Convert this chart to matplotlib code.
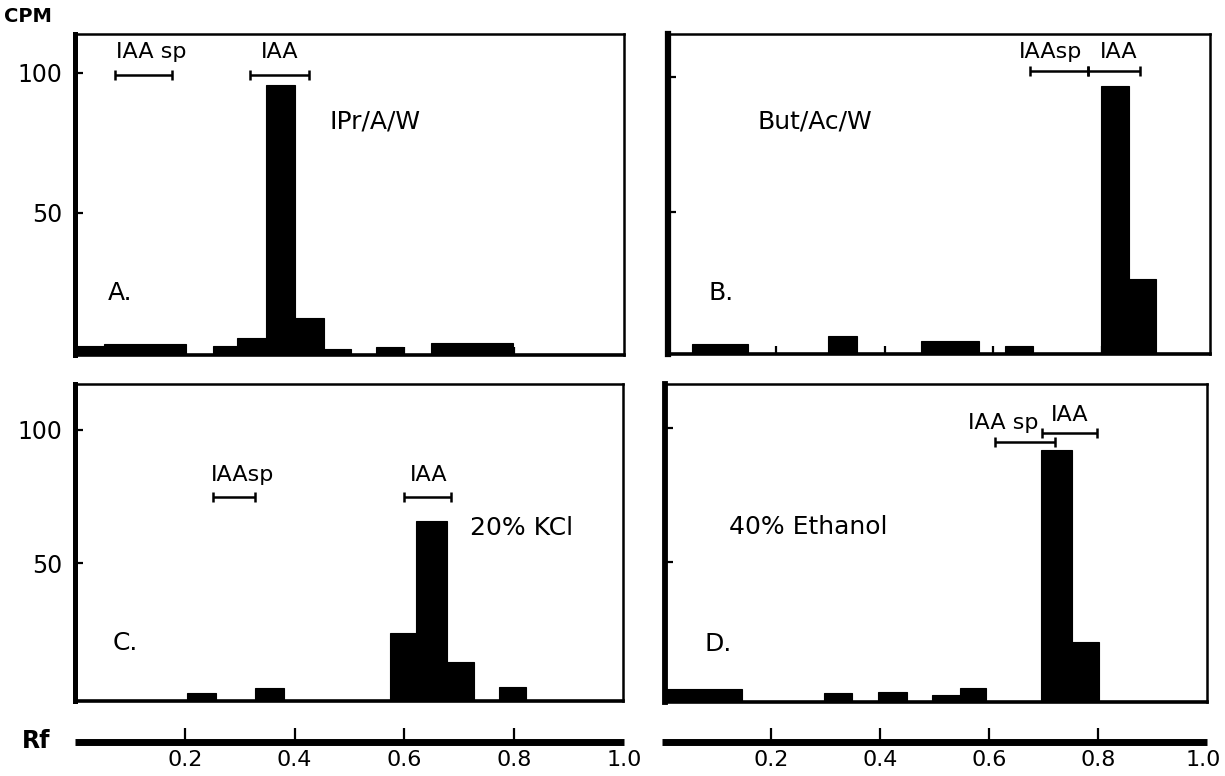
import matplotlib
matplotlib.use("Agg")
import matplotlib.pyplot as plt
from matplotlib.transforms import ScaledTranslation

plt.rcParams['font.family'] = ['DejaVu Sans']

W, H = 1225, 776

# ---------------- data (Rf edges, CPM) ----------------
a_lo = [0.000, 0.052, 0.251, 0.295, 0.348, 0.401, 0.453, 0.549, 0.648]
a_hi = [0.052, 0.202, 0.295, 0.348, 0.401, 0.453, 0.502, 0.598, 0.798]
a_cpm = [2.4, 3.1, 2.4, 5.1, 95.6, 12.5, 1.2, 1.9, 3.6]

b_lo = [0.045, 0.295, 0.466, 0.621, 0.799, 0.850]
b_hi = [0.147, 0.348, 0.573, 0.673, 0.850, 0.900]
b_cpm = [1.4, 4.4, 2.6, 1.0, 96.5, 25.5]

c_lo = [0.204, 0.328, 0.575, 0.622, 0.679, 0.774]
c_hi = [0.258, 0.381, 0.622, 0.679, 0.729, 0.823]
c_cpm = [1.3, 3.1, 24.0, 66.0, 13.1, 3.5]

d_lo = [0.000, 0.294, 0.393, 0.492, 0.545, 0.693, 0.751]
d_hi = [0.142, 0.345, 0.446, 0.545, 0.593, 0.751, 0.801]
d_cpm = [2.5, 0.9, 1.3, 0.0, 2.8, 92.0, 20.0]

# marker brackets: (label, Rf start, Rf end)
a_marks = [("IAA sp", 0.073, 0.176), ("IAA", 0.318, 0.426)]
b_marks = [("IAAsp", 0.667, 0.775), ("IAA", 0.775, 0.871)]
c_marks = [("IAAsp", 0.251, 0.328), ("IAA", 0.601, 0.686)]
d_marks = [("IAA sp", 0.609, 0.720), ("IAA", 0.695, 0.797)]

solvents = ["IPr/A/W", "But/Ac/W", "20% KCl", "40% Ethanol"]
letters = ["A.", "B.", "C.", "D."]
y_ticks = [50, 100]
rf_ticks = [0.2, 0.4, 0.6, 0.8, 1.0]
rf_ticklabels = ["0.2", "0.4", "0.6", "0.8", "1.0"]

# ---------------- layout ----------------
def rect(l, t, r, b):
    return [l / W, 1 - b / H, (r - l) / W, (b - t) / H]

panels = [
    dict(box=(75, 34, 624, 355), ylim=(-0.8, 113.8), lo=a_lo, hi=a_hi, cpm=a_cpm,
         marks=a_marks, mark_y=[99.2, 99.2], lab_x=[0.139, 0.373], lab_y=[107.5, 107.5],
         solv_xy=(0.463, 82.5), let_xy=(0.06, 21.2), ylab=True, lw_left=3.6, rf_in=True),
    dict(box=(668, 34, 1210, 354), ylim=(-2.1, 115.7), lo=b_lo, hi=b_hi, cpm=b_cpm,
         marks=b_marks, mark_y=[102.2, 102.2], lab_x=[0.706, 0.832], lab_y=[109.2, 109.2],
         solv_xy=(0.165, 83.5), let_xy=(0.075, 20.3), ylab=False, lw_left=4.5, rf_in=True),
    dict(box=(75, 384, 623, 701), ylim=(-1.6, 117.2), lo=c_lo, hi=c_hi, cpm=c_cpm,
         marks=c_marks, mark_y=[74.8, 74.8], lab_x=[0.305, 0.646], lab_y=[83.1, 83.1],
         solv_xy=(0.721, 63.1), let_xy=(0.068, 20.0), ylab=True, lw_left=3.6, rf_in=False),
    dict(box=(665, 384, 1207, 702), ylim=(-2.5, 116.6), lo=d_lo, hi=d_hi, cpm=d_cpm,
         marks=d_marks, mark_y=[95.0, 98.1], lab_x=[0.624, 0.746], lab_y=[101.9, 105.0],
         solv_xy=(0.118, 63.1), let_xy=(0.073, 19.4), ylab=False, lw_left=4.2, rf_in=False),
]

fig = plt.figure(figsize=(W / 100, H / 100), dpi=100)

for i, p in enumerate(panels):
    ax = fig.add_axes(rect(*p['box']))
    y0 = p['ylim'][0]
    widths = [h - l for l, h in zip(p['lo'], p['hi'])]
    heights = [v - y0 for v in p['cpm']]
    ax.bar(p['lo'], heights, width=widths, bottom=y0, align='edge',
           color='black', edgecolor='black', linewidth=0.8)
    ax.set_xlim(0, 1)
    ax.set_ylim(*p['ylim'])
    for s in ['top', 'right']:
        ax.spines[s].set_linewidth(1.8)
    ax.spines['bottom'].set_linewidth(2.6)
    ax.spines['left'].set_linewidth(p['lw_left'])
    ax.set_yticks(y_ticks)
    ax.set_yticklabels([str(t) for t in y_ticks] if p['ylab'] else [])
    ax.tick_params(axis='y', direction='in', length=6, width=1.6,
                   labelsize=17, pad=9, left=True)
    if p['rf_in']:
        ax.set_xticks(rf_ticks[:-1])
    else:
        ax.set_xticks([])
    ax.set_xticklabels([])
    ax.tick_params(axis='x', direction='in', length=6, width=1.6)

    # marker brackets
    for (lab, x0, x1), ym, lx, ly in zip(p['marks'], p['mark_y'], p['lab_x'], p['lab_y']):
        ax.plot([x0, x1], [ym, ym], color='black', lw=1.8, solid_capstyle='butt')
        ax.plot([x0, x1], [ym, ym], ls='none', marker='|', ms=7, mew=1.8, color='black')
        ax.text(lx, ly, lab, ha='center', va='center', fontsize=16)
    ax.text(p['solv_xy'][0], p['solv_xy'][1], solvents[i], ha='left', va='center', fontsize=18)
    ax.text(p['let_xy'][0], p['let_xy'][1], letters[i], ha='left', va='center', fontsize=18)

# Rf scales
for k, box in enumerate([(75, 722, 624, 742), (662, 722, 1207, 742)]):
    rx = fig.add_axes(rect(*box))
    rx.set_xlim(0, 1)
    rx.set_ylim(0, 1)
    for s in ['top', 'right', 'left']:
        rx.spines[s].set_visible(False)
    rx.spines['bottom'].set_linewidth(5)
    rx.spines['bottom'].set_capstyle('butt')
    rx.set_yticks([])
    rx.set_xticks(rf_ticks)
    rx.set_xticklabels(rf_ticklabels)
    rx.tick_params(axis='x', length=0, labelsize=16, pad=6)
    rx.vlines(rf_ticks[:-1], 0, 0.72, color='black', lw=1.6, clip_on=False)
    rx.patch.set_alpha(0)
    if k == 1:
        last = rx.get_xticklabels()[-1]
        last.set_transform(last.get_transform() + ScaledTranslation(-4 / 100, 0, fig.dpi_scale_trans))

fig.text(28 / W, 1 - 17 / H, "CPM", ha='center', va='center', fontsize=14, fontweight='bold')
fig.text(36 / W, 1 - 741 / H, "Rf", ha='center', va='center', fontsize=17, fontweight='bold')

fig.savefig("out.png", dpi=100)
